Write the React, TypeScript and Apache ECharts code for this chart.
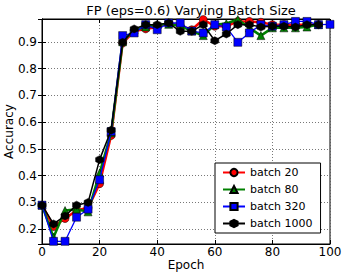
import React, { useEffect, useRef } from "react";
import * as echarts from "echarts";

const epochs = [0, 4, 8, 12, 16, 20, 24, 28, 32, 36, 40, 44, 48, 52, 56, 60, 64, 68, 72, 76, 80, 84, 88, 92, 96, 100];

const batch20 = [0.29, 0.21, 0.24, 0.27, 0.28, 0.37, 0.55, 0.895, 0.94, 0.948, 0.955, 0.97, 0.96, 0.945, 0.983, 0.958, 0.958, 0.976, 0.976, 0.973, 0.964, 0.964, 0.964, 0.964, 0.964];
const batch80 = [0.29, 0.17, 0.27, 0.275, 0.265, 0.41, 0.56, 0.9, 0.945, 0.955, 0.964, 0.965, 0.96, 0.94, 0.923, 0.964, 0.968, 0.983, 0.952, 0.923, 0.952, 0.952, 0.952, 0.955, 0.964];
const batch320 = [0.29, 0.155, 0.155, 0.245, 0.275, 0.385, 0.565, 0.923, 0.933, 0.964, 0.945, 0.97, 0.97, 0.94, 0.933, 0.964, 0.955, 0.898, 0.933, 0.964, 0.958, 0.964, 0.976, 0.976, 0.964, 0.965];
const batch1000 = [0.29, 0.22, 0.25, 0.29, 0.3, 0.46, 0.57, 0.898, 0.948, 0.964, 0.964, 0.97, 0.939, 0.939, 0.964, 0.904, 0.929, 0.964, 0.964, 0.955, 0.958, 0.958, 0.955, 0.964, 0.964];

const seriesNames = ["batch 20", "batch 80", "batch 320", "batch 1000"];
const xTicks = [0, 20, 40, 60, 80, 100];

const hexagon = "path://M0,-1 L0.866,-0.5 L0.866,0.5 L0,1 L-0.866,0.5 L-0.866,-0.5 Z";

function pairs(vals: number[]) {
  return vals.map((v, i) => [epochs[i], v]);
}

export default function App() {
  const ref = useRef<HTMLDivElement>(null);
  useEffect(() => {
    if (!ref.current) return;
    const chart = echarts.init(ref.current, null, { renderer: "svg" });
    const font = "DejaVu Sans";
    const tickStyle = { show: true, inside: true, length: 4, lineStyle: { color: "#000" } };
    const yLabelFmt = (v: number) => {
      const r = Math.round(v * 10) / 10;
      if (Math.abs(r - v) > 1e-6) return "";
      return r.toFixed(1);
    };
    chart.setOption({
      animation: false,
      backgroundColor: "#fff",
      textStyle: { fontFamily: font },
      title: {
        text: "FP (eps=0.6) Varying Batch Size",
        left: 186,
        textAlign: "center",
        top: -1,
        textStyle: { fontFamily: font, fontSize: 13, fontWeight: "normal", color: "#000" },
      },
      grid: {
        left: 42,
        right: 16,
        top: 19,
        bottom: 33,
        containLabel: false,
        outerBoundsMode: "none",
        show: true,
        borderColor: "#000",
        borderWidth: 1,
        backgroundColor: "transparent",
      },
      legend: {
        orient: "vertical",
        left: 215,
        top: 163,
        data: seriesNames,
        backgroundColor: "#fff",
        borderColor: "#000",
        borderWidth: 1,
        borderRadius: 0,
        padding: [4, 8, 4, 7],
        itemWidth: 22,
        itemHeight: 9,
        itemGap: 6,
        textStyle: { fontFamily: font, fontSize: 11, color: "#000" },
      },
      xAxis: [
        {
          type: "value",
          min: 0,
          max: 100,
          interval: 20,
          name: "Epoch",
          nameLocation: "middle",
          nameGap: 15,
          nameMoveOverlap: false,
          nameTextStyle: { fontFamily: font, fontSize: 12, color: "#000" },
          axisLine: { show: true, lineStyle: { color: "#000" } },
          axisTick: tickStyle,
          axisLabel: { fontFamily: font, fontSize: 12, color: "#000", margin: 2 },
          splitLine: { show: true, lineStyle: { color: "#555", type: [1, 2], width: 0.8 } },
        },
        {
          type: "value",
          position: "top",
          min: 0,
          max: 100,
          interval: 20,
          axisLine: { show: true, lineStyle: { color: "#000" } },
          axisTick: tickStyle,
          axisLabel: { show: false },
          splitLine: { show: false },
        },
      ],
      yAxis: [
        {
          type: "value",
          min: 0.145,
          max: 0.985,
          splitNumber: 8,
          name: "Accuracy",
          nameLocation: "middle",
          nameGap: 27,
          nameMoveOverlap: false,
          nameTextStyle: { fontFamily: font, fontSize: 12, color: "#000" },
          axisLine: { show: true, lineStyle: { color: "#000" } },
          axisTick: tickStyle,
          axisLabel: {
            fontFamily: font,
            fontSize: 12,
            color: "#000",
            margin: 5,
            showMinLabel: false,
            showMaxLabel: false,
            formatter: yLabelFmt,
          },
          splitLine: { show: true, lineStyle: { color: "#555", type: [1, 2], width: 0.8 } },
        },
        {
          type: "value",
          position: "right",
          min: 0.145,
          max: 0.985,
          splitNumber: 8,
          axisLine: { show: true, lineStyle: { color: "#000" } },
          axisTick: tickStyle,
          axisLabel: { show: false },
          splitLine: { show: false },
        },
      ],
      series: [
        {
          name: seriesNames[0],
          type: "line",
          data: pairs(batch20),
          symbol: "circle",
          symbolSize: 8,
          lineStyle: { color: "#ff0000", width: 2.5 },
          itemStyle: { color: "#ff0000", borderColor: "#000", borderWidth: 0.5 },
          z: 2,
        },
        {
          name: seriesNames[1],
          type: "line",
          data: pairs(batch80),
          symbol: "triangle",
          symbolSize: 8,
          lineStyle: { color: "#008000", width: 2.5 },
          itemStyle: { color: "#008000", borderColor: "#000", borderWidth: 0.5 },
          z: 3,
        },
        {
          name: seriesNames[2],
          type: "line",
          data: pairs(batch320),
          symbol: "rect",
          symbolSize: 8,
          lineStyle: { color: "#0000ff", width: 1.3 },
          itemStyle: { color: "#0000ff", borderColor: "#000", borderWidth: 0.5 },
          z: 4,
        },
        {
          name: seriesNames[3],
          type: "line",
          data: pairs(batch1000),
          symbol: hexagon,
          symbolSize: 8,
          lineStyle: { color: "#000", width: 1.5 },
          itemStyle: { color: "#000", borderColor: "#000", borderWidth: 0.5 },
          z: 5,
        },
      ],
    });
    return () => chart.dispose();
  }, []);
  return (
    <div
      ref={ref}
      style={{ position: "absolute", left: 0, top: 0, width: 346, height: 277 }}
    />
  );
}
